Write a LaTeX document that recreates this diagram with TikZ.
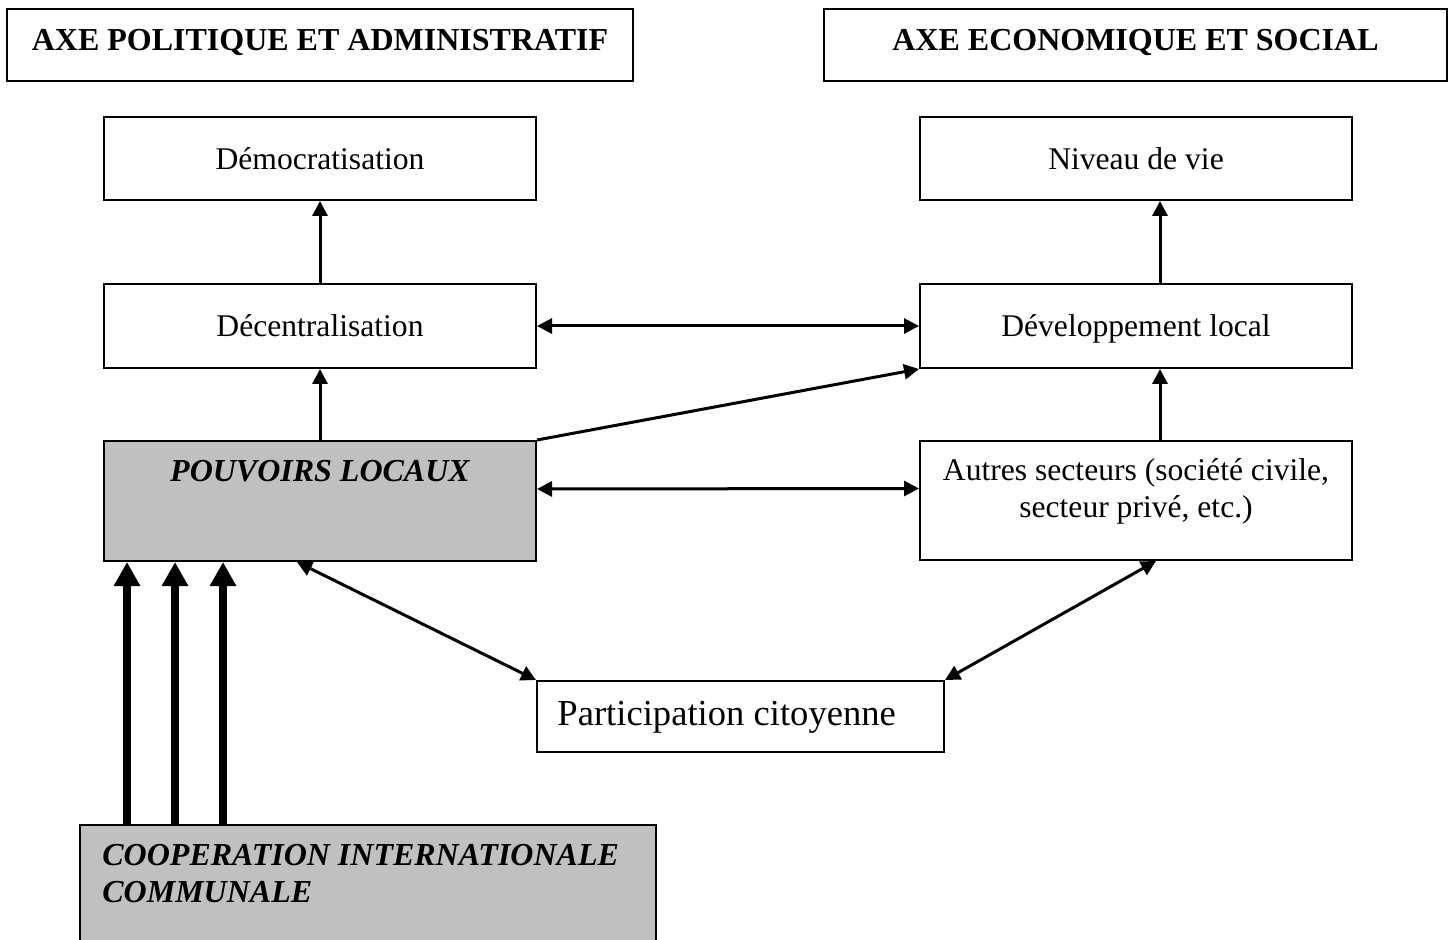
\documentclass[tikz,border=0pt]{standalone}
\usepackage{fontspec}
\setmainfont{Liberation Serif}
\usetikzlibrary{arrows.meta}
\begin{document}
\begin{tikzpicture}[x=0.5pt,y=-0.5pt,
  box/.style={draw, line width=1pt, inner sep=0pt, rectangle},
  graybox/.style={box, fill=gray75},
  lbl/.style={inner sep=0pt, anchor=base, font=\fontsize{15.8pt}{18.5pt}\selectfont},
  head/.style={inner sep=0pt, anchor=base, font=\fontsize{16pt}{19pt}\selectfont\bfseries},
  arr/.style={line width=1.5pt, -{Triangle[length=7.5pt,width=7.5pt]}},
  darr/.style={line width=1.5pt, {Triangle[length=7.5pt,width=7.5pt]}-{Triangle[length=7.5pt,width=7.5pt]}},
  thickarr/.style={line width=4pt, -{Triangle[length=12pt,width=12.5pt]}}
]
\definecolor{gray75}{HTML}{C0C0C0}
\useasboundingbox (0,0) rectangle (1455,940);
\clip (0,0) rectangle (1455,940);
\fill[white] (0,0) rectangle (1455,940);

% header boxes
\node[box, minimum width=313pt, minimum height=36pt] (hl) at (320,45) {};
\node[box, minimum width=311.5pt, minimum height=36pt] (hr) at (1135.5,45) {};
\node[head] (hltext) at (320,51) {AXE POLITIQUE ET ADMINISTRATIF};
\node[head] (hrtext) at (1135.5,51) {AXE ECONOMIQUE ET SOCIAL};

% boxes
\node[box, minimum width=216pt, minimum height=41.5pt] (demo) at (320,158.5) {};
\node[box, minimum width=216pt, minimum height=41.5pt] (niv) at (1136,158.5) {};
\node[box, minimum width=216pt, minimum height=42pt] (dec) at (320,326) {};
\node[box, minimum width=216pt, minimum height=42pt] (dev) at (1136,326) {};
\node[graybox, minimum width=216pt, minimum height=60pt] (pl) at (320,501) {};
\node[box, minimum width=216pt, minimum height=59.5pt] (aut) at (1136,500.5) {};
\node[box, minimum width=203.5pt, minimum height=35.5pt] (part) at (740.5,716.5) {};
\node[graybox, minimum width=288pt, minimum height=77pt] (coop) at (368,902) {};

% texts
\node[lbl] (demotext) at (320,170) {Démocratisation};
\node[lbl] (nivtext) at (1136,170) {Niveau de vie};
\node[lbl] (dectext) at (320,337) {Décentralisation};
\node[lbl] (devtext) at (1136,337) {Développement local};
\node[lbl, font=\fontsize{16pt}{18.5pt}\selectfont\bfseries\itshape] (pltext) at (320,481) {POUVOIRS LOCAUX};
\node[lbl, align=center] (auttext) at (1136,517) {Autres secteurs (société civile,\\secteur privé, etc.)};
\node[lbl, anchor=base west, font=\fontsize{18.3pt}{22pt}\selectfont] (parttext) at (557,725) {Participation citoyenne};
\node[lbl, anchor=base west, align=left, font=\fontsize{16pt}{18.5pt}\selectfont\bfseries\itshape] (cooptext) at (102,902) {COOPERATION INTERNATIONALE\\COMMUNALE};

% connectors
\draw[arr] (dec.north) -- (demo.south);
\draw[arr] ([xshift=12pt]aut.north) -- ([xshift=12pt]dev.south);
\draw[arr] ([xshift=12pt]dev.north) -- ([xshift=12pt]niv.south);
\draw[arr] (pl.north) -- (dec.south);
\draw[darr] (dec.east) -- (dev.west);
\draw[arr] (pl.north east) -- (dev.south west);
\draw[darr] ([yshift=6pt]pl.east) -- ([yshift=6pt]aut.west);
\draw[darr] ([xshift=-11.5pt]pl.south) -- (part.north west);
\draw[darr] ([xshift=10pt]aut.south) -- (part.north east);

\draw[thickarr] (127,0 |- coop.north) -- (127,0 |- pl.south);
\draw[thickarr] (175,0 |- coop.north) -- (175,0 |- pl.south);
\draw[thickarr] (223,0 |- coop.north) -- (223,0 |- pl.south);
\end{tikzpicture}
\end{document}
